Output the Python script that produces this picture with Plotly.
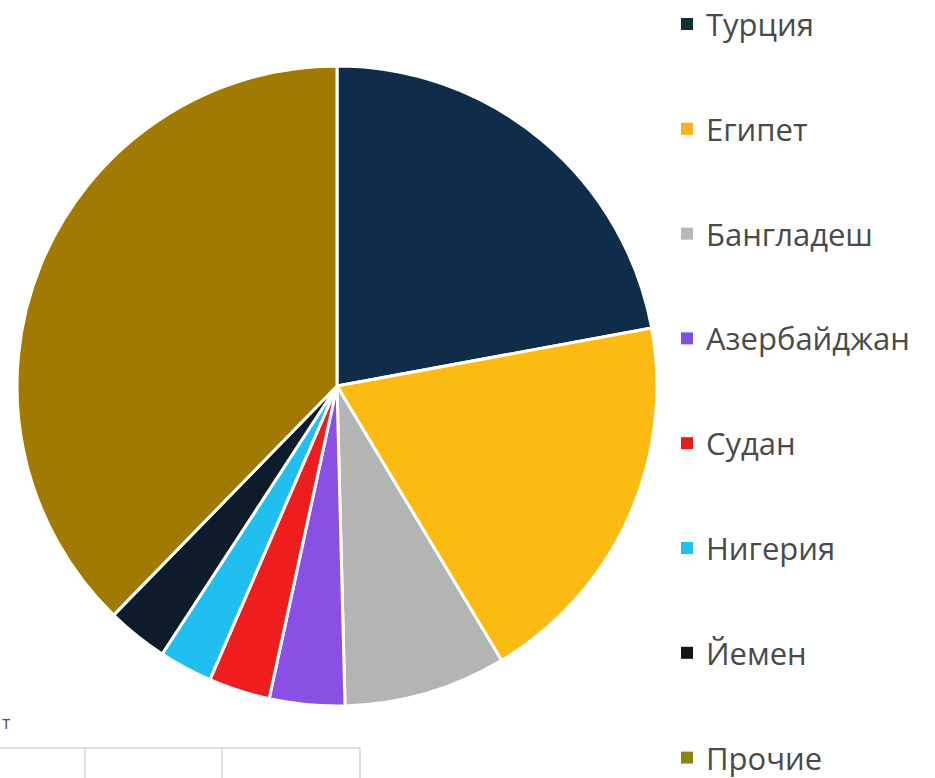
import plotly.graph_objects as go

labels = ["Турция", "Египет", "Бангладеш", "Азербайджан", "Судан", "Нигерия", "Йемен", "Прочие"]
values = [22.1, 19.3, 8.2, 3.8, 3.1, 2.7, 3.1, 37.7]
colors = ["#0f2d4a", "#fbbb13", "#b4b4b4", "#8a50e6", "#ee1e1e", "#20bff0", "#0e1b2a", "#a07a02"]
legend_marker_colors = ["#0f2d3a", "#fbb21a", "#b8b8b8", "#8050e0", "#e81c1c", "#20c0f0", "#101418", "#8a8410"]

W, H = 935, 778
cx, cy, r = 337, 386, 320

fig = go.Figure(go.Pie(
    labels=labels, values=values, sort=False, direction="clockwise", rotation=0,
    marker=dict(colors=colors, line=dict(color="white", width=3)),
    textinfo="none", hoverinfo="label+percent", showlegend=False,
    domain=dict(x=[(cx - r) / W, (cx + r) / W], y=[1 - (cy + r) / H, 1 - (cy - r) / H]),
))

shapes = []
annotations = []
y0, dy = 24, 104.8
for i, (lab, col) in enumerate(zip(labels, legend_marker_colors)):
    y = y0 + i * dy
    shapes.append(dict(type="rect", xref="paper", yref="paper",
                       x0=681 / W, x1=693 / W, y0=1 - (y + 6) / H, y1=1 - (y - 6) / H,
                       fillcolor=col, line=dict(width=0)))
    annotations.append(dict(text=lab, xref="paper", yref="paper", x=704 / W, y=1 - y / H,
                            xanchor="left", yanchor="middle", showarrow=False,
                            font=dict(family="Open Sans", size=31, color="#4a4a4a")))

# cropped table fragment at lower left
line_col = "#d6d6d6"
shapes.append(dict(type="line", xref="paper", yref="paper", x0=0, x1=360 / W,
                   y0=1 - 748 / H, y1=1 - 748 / H, line=dict(color=line_col, width=1.5)))
for xv in [85, 222, 360]:
    shapes.append(dict(type="line", xref="paper", yref="paper", x0=xv / W, x1=xv / W,
                       y0=0, y1=1 - 748 / H, line=dict(color=line_col, width=1.5)))
annotations.append(dict(text="т", xref="paper", yref="paper", x=0, y=1 - 722 / H,
                        xanchor="left", yanchor="middle", showarrow=False,
                        font=dict(family="Open Sans", size=18, color="#555555")))

fig.update_layout(width=W, height=H, margin=dict(l=0, r=0, t=0, b=0),
                  paper_bgcolor="white", plot_bgcolor="white",
                  shapes=shapes, annotations=annotations)
fig.write_html("out.html", config={"displayModeBar": False},
               post_script="document.body.style.margin='0';document.body.style.overflow='hidden';")
